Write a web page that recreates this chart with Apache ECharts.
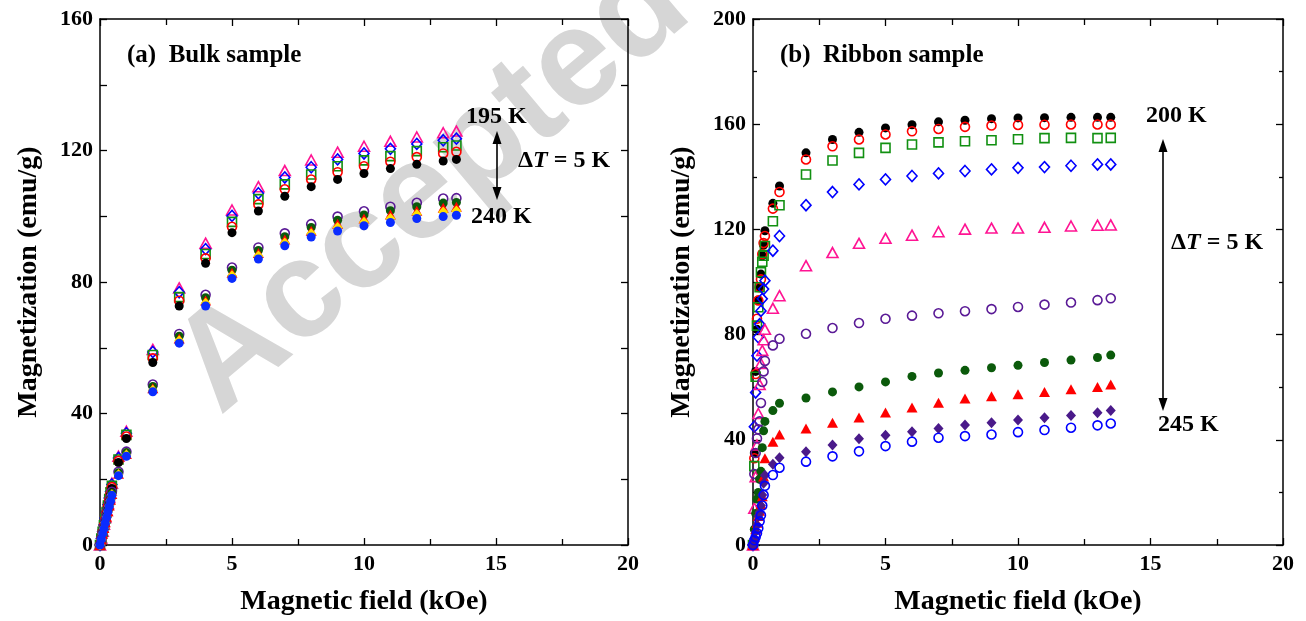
<!DOCTYPE html>
<html>
<head>
<meta charset="utf-8">
<script src="https://cdn.jsdelivr.net/npm/echarts@6/dist/echarts.min.js"></script>
<style>
  html, body { margin: 0; padding: 0; background: #fff; }
  #main { width: 1306px; height: 621px; }
</style>
</head>
<body>
<div id="main"></div>
<script>
// ---- data (field in kOe, magnetization in emu/g) ----
const fieldBulk = [0, 0.05, 0.1, 0.15, 0.2, 0.25, 0.3, 0.35, 0.4, 0.45, 0.7, 1, 2, 3, 4, 5, 6, 7, 8, 9, 10, 11, 12, 13, 13.5];
const bulk195 = [0, 2.1, 4.2, 6.3, 8.4, 10.5, 12.6, 14.6, 16.7, 18.8, 27.0, 34.6, 59.5, 78.2, 91.8, 101.9, 109.0, 113.9, 117.1, 119.5, 121.3, 122.8, 124.1, 125.4, 125.9];
const bulk200 = [0, 2.0, 4.1, 6.1, 8.2, 10.2, 12.3, 14.3, 16.3, 18.4, 26.5, 34.0, 58.7, 76.9, 90.0, 100.1, 107.0, 111.8, 114.9, 117.3, 119.1, 120.5, 122.0, 123.1, 123.6];
const bulk205 = [0, 2.0, 4.0, 6.0, 8.0, 10.0, 12.0, 14.0, 16.0, 18.0, 26.0, 33.5, 57.8, 75.4, 88.5, 98.3, 105.2, 109.7, 112.7, 115.2, 117.0, 118.3, 119.8, 121.0, 121.5];
const bulk210 = [0, 1.9, 3.9, 5.9, 7.8, 9.8, 11.8, 13.7, 15.7, 17.6, 25.6, 33.0, 56.8, 74.3, 87.2, 96.8, 103.6, 108.2, 111.2, 113.4, 115.2, 116.6, 118.0, 119.1, 119.6];
const bulk215 = [0, 1.9, 3.8, 5.7, 7.6, 9.5, 11.4, 13.3, 15.2, 17.2, 25.1, 32.4, 55.5, 72.7, 85.7, 95.0, 101.6, 106.1, 109.0, 111.2, 113.0, 114.5, 115.8, 116.8, 117.3];
const bulk220 = [0, 1.8, 3.6, 5.4, 7.2, 9.0, 10.8, 12.6, 14.4, 16.2, 22.3, 28.4, 48.8, 64.2, 76.1, 84.4, 90.5, 94.8, 97.6, 99.9, 101.5, 102.9, 104.1, 105.4, 105.5];
const bulk225 = [0, 1.75, 3.5, 5.3, 7.0, 8.8, 10.5, 12.3, 14.0, 15.8, 22.0, 28.1, 48.2, 63.5, 75.2, 83.6, 89.6, 93.8, 96.6, 98.8, 100.4, 101.7, 102.9, 104.0, 104.2];
const bulk230 = [0, 1.7, 3.4, 5.2, 6.9, 8.6, 10.3, 12.0, 13.8, 15.5, 21.7, 27.7, 47.7, 62.8, 74.4, 82.8, 88.8, 92.9, 95.6, 97.7, 99.3, 100.5, 101.7, 102.6, 102.9];
const bulk235 = [0, 1.7, 3.4, 5.1, 6.8, 8.5, 10.2, 11.9, 13.6, 15.3, 21.4, 27.4, 47.1, 62.1, 73.5, 81.9, 87.9, 91.9, 94.7, 96.6, 98.2, 99.3, 100.5, 101.3, 101.6];
const bulk240 = [0, 1.7, 3.4, 5.0, 6.7, 8.4, 10.1, 11.8, 13.4, 15.1, 21.1, 27.0, 46.6, 61.4, 72.7, 81.1, 87.0, 91.0, 93.7, 95.5, 97.1, 98.1, 99.3, 99.9, 100.3];

const fieldRibbon = [0, 0.05, 0.1, 0.15, 0.2, 0.25, 0.3, 0.35, 0.4, 0.45, 0.75, 1, 2, 3, 4, 5, 6, 7, 8, 9, 10, 11, 12, 13, 13.5];
const rib200 = [0, 35, 66, 82, 93, 98, 103, 110, 114, 119.5, 129.9, 136.5, 149.1, 154.2, 156.9, 158.6, 159.8, 160.9, 161.5, 162.1, 162.4, 162.5, 162.6, 162.6, 162.6];
const rib205 = [0, 33, 65, 86, 93, 98, 101, 110.6, 114.8, 117.5, 127.9, 134.2, 146.6, 151.6, 154.2, 156.1, 157.3, 158.2, 159.0, 159.5, 159.7, 159.8, 159.9, 159.9, 159.9];
const rib210 = [0, 30, 64, 83.4, 90.4, 98, 103.7, 107.7, 110, 113.7, 123.1, 129.2, 140.9, 146.2, 149.1, 151.0, 152.3, 153.1, 153.5, 153.9, 154.3, 154.7, 154.8, 154.7, 154.8];
const rib215 = [0, 45, 58, 72, 79, 84, 89, 93.6, 97.3, 100.5, 111.9, 117.5, 129.2, 134.2, 137.1, 139.0, 140.3, 141.3, 142.2, 142.8, 143.4, 143.7, 144.2, 144.7, 144.7];
const rib220 = [0, 14, 26, 38, 50, 61, 69, 74, 78, 82, 90.0, 94.8, 106.2, 111.2, 114.7, 116.6, 117.8, 119.1, 120.1, 120.5, 120.5, 120.8, 121.3, 121.6, 121.7];
const rib225 = [0, 27, 35, 40.5, 44, 47, 54, 62, 66, 70, 75.9, 78.4, 80.3, 82.5, 84.4, 86.0, 87.2, 88.1, 88.9, 89.7, 90.5, 91.4, 92.2, 93.1, 93.8];
const rib230 = [0, 6, 12, 17.5, 20, 25, 28, 37, 43.4, 47, 51.1, 53.9, 55.9, 58.2, 60.1, 62.0, 64.1, 65.4, 66.4, 67.4, 68.3, 69.4, 70.3, 71.3, 72.2];
const rib235 = [0, 3, 6, 8.5, 11, 13, 15.5, 18.5, 26, 33, 39.3, 42.0, 44.3, 46.5, 48.5, 50.4, 52.3, 54.1, 55.7, 56.6, 57.3, 58.2, 59.2, 60.1, 61.0];
const rib240 = [0, 2.5, 5, 7.5, 11, 12.5, 15, 19, 23.5, 26.5, 30.7, 33.2, 35.5, 38.0, 40.4, 41.7, 43.1, 44.3, 45.6, 46.5, 47.5, 48.4, 49.2, 50.3, 51.1];
const rib245 = [0, 1.8, 3, 4.5, 6.4, 9, 11.3, 15, 19, 22.5, 26.6, 29.4, 31.7, 33.7, 35.6, 37.6, 39.3, 40.8, 41.4, 42.0, 42.9, 43.7, 44.6, 45.5, 46.2];

// ---- styling ----
const FONT = 'Liberation Serif';
const myChart = echarts.init(document.getElementById('main'), null, { renderer: 'canvas' });

// marker look for each temperature: [name, values, symbol, colour, open?]
const bulkSets = [
  ['195 K', bulk195, 'triangle', '#ff1493', true],
  ['200 K', bulk200, 'diamond', '#0000ff', true],
  ['205 K', bulk205, 'rect', '#119011', true],
  ['210 K', bulk210, 'circle', '#ff0000', true],
  ['215 K', bulk215, 'circle', '#000000', false],
  ['220 K', bulk220, 'circle', '#5a1a96', true],
  ['225 K', bulk225, 'circle', '#0b5a0b', false],
  ['230 K', bulk230, 'triangle', '#ff0000', false],
  ['235 K', bulk235, 'diamond', '#ffe000', false],
  ['240 K', bulk240, 'circle', '#0a2cff', false]
];
const ribbonSets = [
  ['200 K', rib200, 'circle', '#000000', false],
  ['205 K', rib205, 'circle', '#ff0000', true],
  ['210 K', rib210, 'rect', '#119011', true],
  ['215 K', rib215, 'diamond', '#0000ff', true],
  ['220 K', rib220, 'triangle', '#ff1493', true],
  ['225 K', rib225, 'circle', '#5a1a96', true],
  ['230 K', rib230, 'circle', '#0b5a0b', false],
  ['235 K', rib235, 'triangle', '#ff0000', false],
  ['240 K', rib240, 'diamond', '#4a1a8a', false],
  ['245 K', rib245, 'circle', '#0000ff', true]
];

function symSize(sym) {
  if (sym === 'triangle') return [11, 10];
  if (sym === 'diamond') return [10, 11];
  if (sym === 'rect') return [9, 9];
  return 9;
}

function buildSeries(sets, field, gridIdx) {
  return sets.map(([name, vals, sym, col, open]) => ({
    name: name,
    type: 'scatter',
    xAxisIndex: gridIdx * 2,
    yAxisIndex: gridIdx * 2,
    symbol: sym,
    symbolSize: symSize(sym),
    data: field.map((h, i) => [h, vals[i]]),
    itemStyle: open
      ? { color: 'rgba(255,255,255,0)', borderColor: col, borderWidth: 1.6, opacity: 1 }
      : { color: col, borderWidth: 0, opacity: 1 },
    z: 3
  }));
}

const tickLabel = { fontFamily: FONT, fontWeight: 'bold', fontSize: 22, color: '#000' };
const nameStyle = { fontFamily: FONT, fontWeight: 'bold', fontSize: 28, color: '#000' };
const line = { show: true, onZero: false, lineStyle: { color: '#000', width: 1.5 } };

function xAxes(gridIdx) {
  const base = {
    type: 'value', gridIndex: gridIdx, min: 0, max: 20, interval: 5,
    axisLine: line, splitLine: { show: false },
    axisTick: { inside: true, length: 7, lineStyle: { color: '#000', width: 1.3 } },
    minorTick: { show: true, splitNumber: 2, length: 6, lineStyle: { color: '#000', width: 1.3 } }
  };
  return [
    Object.assign({}, base, {
      position: 'bottom',
      name: 'Magnetic field (kOe)', nameLocation: 'middle', nameGap: 43, nameTextStyle: nameStyle,
      axisLabel: Object.assign({ margin: 8 }, tickLabel)
    }),
    Object.assign({}, base, { position: 'top', axisLabel: { show: false } })
  ];
}

function yAxes(gridIdx, max, minorLen) {
  const base = {
    type: 'value', gridIndex: gridIdx, min: 0, max: max, interval: 40,
    axisLine: line, splitLine: { show: false },
    axisTick: { inside: true, length: 7, lineStyle: { color: '#000', width: 1.3 } },
    minorTick: { show: true, splitNumber: 2, length: minorLen, lineStyle: { color: '#000', width: 1.3 } }
  };
  return [
    Object.assign({}, base, {
      position: 'left',
      name: 'Magnetization (emu/g)', nameLocation: 'middle', nameGap: 57, nameTextStyle: nameStyle,
      axisLabel: Object.assign({ margin: 7 }, tickLabel)
    }),
    Object.assign({}, base, { position: 'right', axisLabel: { show: false } })
  ];
}

function txt(x, y, text, size, align) {
  return {
    type: 'text', x: x, y: y, z: 10,
    style: {
      text: text, fill: '#000', font: 'bold ' + size + 'px "' + FONT + '"',
      align: align || 'left', verticalAlign: 'middle'
    }
  };
}
function deltaT(x, y) {
  return {
    type: 'text', x: x, y: y, z: 10,
    style: {
      text: '{a|\u0394}{b|T}{a| = 5 K}', verticalAlign: 'middle', align: 'left',
      rich: {
        a: { fontFamily: FONT, fontWeight: 'bold', fontSize: 24, fill: '#000' },
        b: { fontFamily: FONT, fontWeight: 'bold', fontStyle: 'italic', fontSize: 24, fill: '#000' }
      }
    }
  };
}
function arrowHead(x, y, dir) {
  // dir: -1 points up, 1 points down
  return {
    type: 'polygon', z: 10,
    shape: { points: [[x, y], [x - 4.5, y - dir * 13], [x + 4.5, y - dir * 13]] },
    style: { fill: '#000' }
  };
}
function vline(x, y1, y2, w) {
  return { type: 'line', z: 10, shape: { x1: x, y1: y1, x2: x, y2: y2 }, style: { stroke: '#000', lineWidth: w } };
}

const option = {
  animation: false,
  backgroundColor: '#fff',
  grid: [
    { left: 100, top: 19, width: 528, height: 528 },
    { left: 753, top: 19, width: 530, height: 528 }
  ],
  xAxis: xAxes(0).concat(xAxes(1)),
  yAxis: yAxes(0, 160, 7).concat(yAxes(1, 200, 4)),
  series: buildSeries(bulkSets, fieldBulk, 0).concat(buildSeries(ribbonSets, fieldRibbon, 1)),
  graphic: [
    {
      type: 'text', x: 240, y: 440, rotation: 0.7, z: 0, silent: true,
      style: {
        text: 'Accepted Manuscript', fill: '#d6d6d6',
        font: 'bold 138px "Liberation Sans"', align: 'left', verticalAlign: 'bottom'
      }
    },
    txt(127, 56, '(a)  Bulk sample', 25),
    txt(466, 117, '195 K', 24),
    txt(471, 217, '240 K', 24),
    deltaT(518, 161),
    vline(497, 140, 192, 1.6),
    arrowHead(497, 131, -1),
    arrowHead(497, 200, 1),
    txt(780, 56, '(b)  Ribbon sample', 25),
    txt(1146, 116, '200 K', 24),
    txt(1158, 425, '245 K', 24),
    deltaT(1171, 243),
    vline(1163, 150, 402, 1.6),
    arrowHead(1163, 139, -1),
    arrowHead(1163, 411, 1)
  ]
};

myChart.setOption(option);
window.addEventListener('resize', function () {
  myChart.resize();
});
</script>
</body>
</html>
